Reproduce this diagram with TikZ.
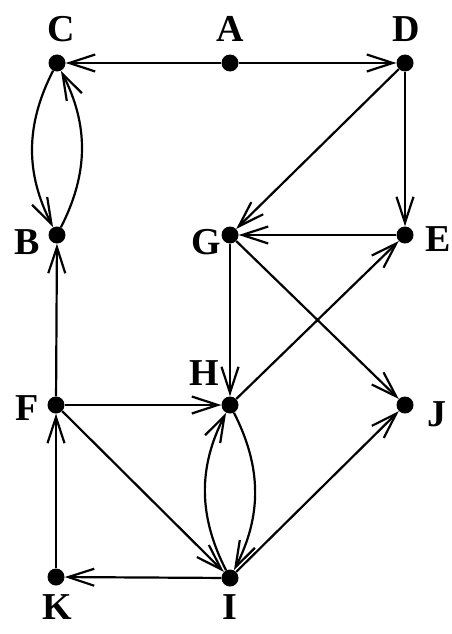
\documentclass[tikz,border=0pt]{standalone}
\usepackage{fontspec}
\setmainfont{Liberation Serif}
\usetikzlibrary{arrows.meta}
\begin{document}
\begin{tikzpicture}[x=1pt,y=-1pt,
  vtx/.style={circle,fill=black,inner sep=0pt,minimum size=17pt},
  lbl/.style={inner sep=0pt,font=\fontsize{38}{38}\selectfont\bfseries},
  arc/.style={line width=2.2pt,-{Straight Barb[length=26pt,width=17pt]}}]
\useasboundingbox (0,0) rectangle (452,634);
\fill[white] (0,0) rectangle (452,634);
% vertices
\node[vtx] (C) at (57,63) {};
\node[vtx] (A) at (230,63) {};
\node[vtx] (D) at (405,63) {};
\node[vtx] (B) at (57,235) {};
\node[vtx] (G) at (230,235) {};
\node[vtx] (E) at (405,235) {};
\node[vtx] (F) at (56,405) {};
\node[vtx] (H) at (230,405) {};
\node[vtx] (J) at (405,405) {};
\node[vtx] (K) at (56,577) {};
\node[vtx] (I) at (230,578) {};
% labels
\node[lbl] (lC) at (61,29) {C};
\node[lbl] (lA) at (230,29) {A};
\node[lbl] (lD) at (406,29) {D};
\node[lbl] (lB) at (27,242) {B};
\node[lbl] (lG) at (206,242) {G};
\node[lbl] (lE) at (438,239) {E};
\node[lbl] (lH) at (204,373) {H};
\node[lbl] (lF) at (27,408) {F};
\node[lbl] (lJ) at (437,414) {J};
\node[lbl] (lK) at (57,607) {K};
\node[lbl] (lI) at (230,607) {I};
% edges
\draw[arc] (A) -- (C);
\draw[arc] (A) -- (D);
\draw[arc] (C) to[bend right=27] (B);
\draw[arc] (B) to[bend right=27] (C);
\draw[arc] (D) -- (G);
\draw[arc] (D) -- (E);
\draw[arc] (E) -- (G);
\draw[arc] (G) -- (H);
\draw[arc] (G) -- (J);
\draw[arc] (H) -- (E);
\draw[arc] (F) -- (B);
\draw[arc] (F) -- (H);
\draw[arc] (F) -- (I);
\draw[arc] (I) to[bend left=27] (H);
\draw[arc] (H) to[bend left=27] (I);
\draw[arc] (I) -- (J);
\draw[arc] (I) -- (K);
\draw[arc] (K) -- (F);
\end{tikzpicture}
\end{document}
